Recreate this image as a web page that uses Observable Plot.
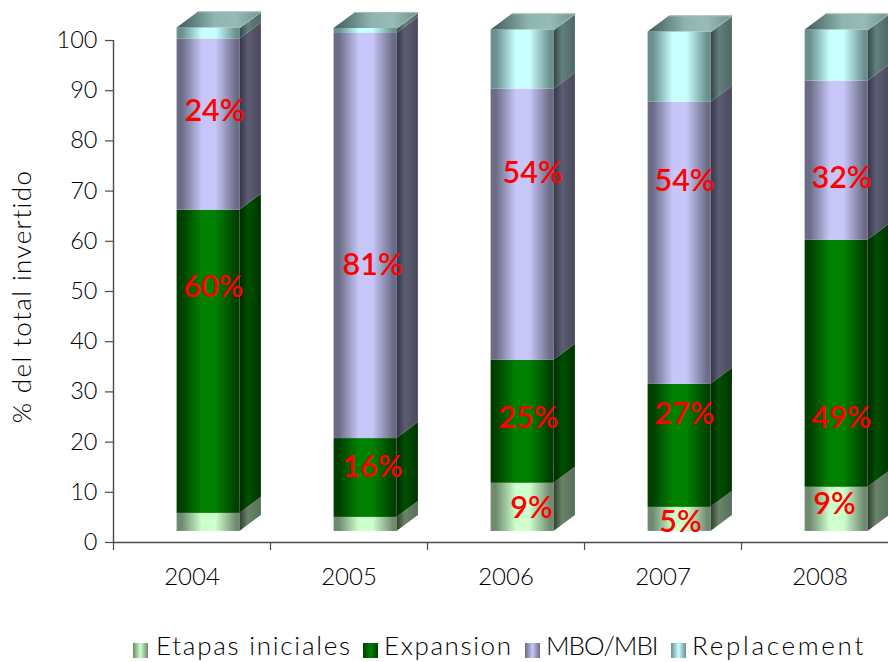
<!DOCTYPE html>
<html><head><meta charset="utf-8">
<script src="https://cdn.jsdelivr.net/npm/d3@7"></script>
<script src="https://cdn.jsdelivr.net/npm/@observablehq/plot@0.6"></script>
<style>
html,body{margin:0;padding:0;background:#fff;overflow:hidden}
#legend{position:relative;height:32px;font-family:"Lato","DejaVu Sans",sans-serif;font-size:26px;font-weight:300;color:#000}
#legend span{position:absolute;top:0;white-space:nowrap;line-height:31px}
#legend i{position:absolute;top:13px;width:15px;height:15px}
svg{display:block}
</style></head><body>
<div id="chart"></div>
<div id="legend"></div>
<script>
const years = ["2004","2005","2006","2007","2008"];
const seriesNames = ["Etapas iniciales","Expansion","MBO/MBI","Replacement"];
const etapas = [3.6,2.8,9.6,4.8,8.8];
const expansion = [60.4,15.7,24.5,24.5,49.2];
const mbo = [34.1,80.7,54.0,56.2,31.7];
const replacement = [2.2,1.0,11.8,14.0,10.2];
const floor = 2.2;

const labelYear = [0,0,1,1,2,2,2,3,3,3,4,4,4];
const labelText = ["24%","60%","81%","16%","54%","25%","9%","54%","27%","5%","32%","49%","9%"];
const labelValue = [86,50.8,55.2,14.9,73.5,24.7,6.8,71.9,25.5,4,72.5,24.7,7.6];
const labelNudge = [0.643,0.637,0.65,0.65,0.669,0.643,0.662,0.637,0.637,0.611,0.637,0.637,0.592];

const palette = [
 {dark:"#6f8a6f",light:"#ccffcc",s0:"#2d3d2d",s1:"#6a846a",s2:"#56705a"},
 {dark:"#003f00",light:"#008000",s0:"#002400",s1:"#004f00",s2:"#003400"},
 {dark:"#6b6b85",light:"#c6c6f8",s0:"#33334a",s1:"#5c5c72",s2:"#4a4a5e"},
 {dark:"#6a8f8e",light:"#c8ffff",s0:"#2f4544",s1:"#62807e",s2:"#4f6866"}
];
const left = 0.405, barW = 0.4, dx = 0.137, dy = 3.19;
const seriesValues = [etapas,expansion,mbo,replacement];

const fronts = [], sides = [], tops = [], edges = [];
years.forEach((yr,i)=>{
  let base = floor;
  const xl = i+left, xr = xl+barW;
  seriesValues.forEach((vals,s)=>{
    const t = base+vals[i];
    fronts.push({s,x1:xl,x2:xr,y1:base,y2:t});
    sides.push({s,id:yr+s,x:xr,y1:base,y2:t},{s,id:yr+s,x:xr+dx,y1:base+dy,y2:t+dy});
    base = t;
  });
  tops.push(
    {id:yr,x:xl,y1:base,y2:base},
    {id:yr,x:xl+dx,y1:base,y2:base+dy},
    {id:yr,x:xr,y1:base,y2:base+dy},
    {id:yr,x:xr+dx,y1:base+dy,y2:base+dy});
  edges.push(
    {id:yr,x:xr,y:base},
    {id:yr,x:xr+dx,y:base+dy},
    {id:yr,x:xl+dx,y:base+dy});
});
const labels = labelText.map((t,k)=>({t,x:labelYear[k]+labelNudge[k],y:labelValue[k]}));
const font = '"Lato","DejaVu Sans",sans-serif';
const axisColor = "#4a4a4a";

const marks = [];
seriesValues.forEach((_,s)=>{
  marks.push(Plot.areaY(sides.filter(d=>d.s===s),{x:"x",y1:"y1",y2:"y2",z:"id",fill:`url(#side${s})`}));
  marks.push(Plot.rect(fronts.filter(d=>d.s===s),{x1:"x1",x2:"x2",y1:"y1",y2:"y2",fill:`url(#front${s})`}));
});
marks.push(Plot.areaY(tops,{x:"x",y1:"y1",y2:"y2",z:"id",fill:"url(#top)"}));
marks.push(Plot.line(edges,{x:"x",y:"y",z:"id",stroke:"#a8bcba",strokeWidth:1}));
marks.push(Plot.ruleY([0],{stroke:axisColor,strokeWidth:1.4}));
marks.push(Plot.ruleX([0],{y1:0,y2:100,stroke:axisColor,strokeWidth:1.4}));
marks.push(Plot.axisY({ticks:d3.range(0,101,10),tickSize:8,tickPadding:8,stroke:axisColor,strokeWidth:1.2,fill:"#000",fontSize:23.5,fontWeight:300,fontFamily:font,label:null}));
marks.push(Plot.axisX({ticks:[0,1,2,3,4],tickSize:8,tickFormat:()=>"",stroke:axisColor,strokeWidth:1.2,label:null}));
marks.push(Plot.axisX({ticks:[0.5,1.5,2.5,3.5,4.5],tickSize:0,tickPadding:25,tickFormat:d=>years[Math.floor(d)],fill:"#000",fontSize:24,fontWeight:300,fontFamily:font,label:null}));
marks.push(Plot.text(labels,{x:"x",y:"y",text:"t",fill:"#ff0000",fontSize:30.5,fontFamily:font,fontWeight:600}));
marks.push(Plot.text([{t:"% del total invertido",x:-0.58,y:49}],{x:"x",y:"y",text:"t",rotate:-90,fill:"#000",fontSize:26,fontWeight:300,fontFamily:font}));

const svg = Plot.plot({
  width:888,height:630,marginLeft:113,marginRight:0,marginTop:40,marginBottom:88,
  x:{domain:[0,4.936]},
  y:{domain:[0,100]},
  style:{overflow:"visible",background:"#fff"},
  marks
});
d3.select(svg).selectAll("text").filter(function(){return this.textContent==="% del total invertido"}).style("letter-spacing","1.4px");
const defs = d3.select(svg).insert("defs",":first-child");
function grad(id,stops){
  const g = defs.append("linearGradient").attr("id",id).attr("x1",0).attr("x2",1).attr("y1",0).attr("y2",0);
  stops.forEach(([o,c])=>g.append("stop").attr("offset",o).attr("stop-color",c));
}
palette.forEach((p,s)=>{
  grad("front"+s,[[0,p.dark],[0.08,p.dark],[0.4,p.light],[0.62,p.light],[0.95,p.dark],[1,p.dark]]);
  grad("side"+s,[[0,p.s0],[0.4,p.s1],[1,p.s2]]);
});
grad("top",[[0,"#3f5a58"],[0.45,"#8fb5b0"],[0.7,"#97bcb7"],[1,"#6f9490"]]);
document.getElementById("chart").appendChild(svg);

const legendLeft = [133,363,525,671];
const legendText = [156,384,546,692];
const legendTracking = [1.75,1.6,-1.0,2.7];
const lg = d3.select("#legend");
seriesNames.forEach((n,s)=>{
  const p = palette[s];
  lg.append("i").style("left",legendLeft[s]+"px").style("background",`linear-gradient(90deg,${p.dark},${p.light} 50%,${p.dark})`);
  lg.append("span").style("left",legendText[s]+"px").style("letter-spacing",legendTracking[s]+"px").text(n);
});
</script>
</body></html>
